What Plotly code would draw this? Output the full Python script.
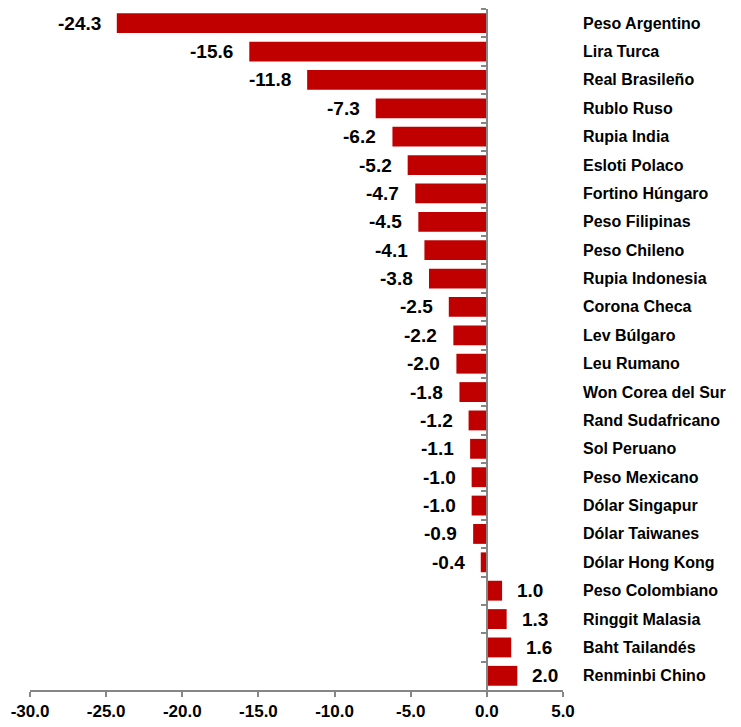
import plotly.graph_objects as go

currencies = ["Peso Argentino", "Lira Turca", "Real Brasileño", "Rublo Ruso", "Rupia India",
              "Esloti Polaco", "Fortino Húngaro", "Peso Filipinas", "Peso Chileno", "Rupia Indonesia",
              "Corona Checa", "Lev Búlgaro", "Leu Rumano", "Won Corea del Sur", "Rand Sudafricano",
              "Sol Peruano", "Peso Mexicano", "Dólar Singapur", "Dólar Taiwanes", "Dólar Hong Kong",
              "Peso Colombiano", "Ringgit Malasia", "Baht Tailandés", "Renminbi Chino"]
changes = [-24.3, -15.6, -11.8, -7.3, -6.2, -5.2, -4.7, -4.5, -4.1, -3.8, -2.5, -2.2, -2.0,
           -1.8, -1.2, -1.1, -1.0, -1.0, -0.9, -0.4, 1.0, 1.3, 1.6, 2.0]
tick_values = [-30, -25, -20, -15, -10, -5, 0, 5]
tick_labels = ["-30.0", "-25.0", "-20.0", "-15.0", "-10.0", "-5.0", "0.0", "5.0"]
x_range = [-30, 5]

FONT = "Liberation Sans, Arial, sans-serif"
GRAY = "#868686"

fig = go.Figure(go.Bar(
    x=changes, y=currencies, orientation="h",
    marker=dict(color="#C00000", line=dict(width=0)),
    hoverinfo="x+y",
))

ann = []
for c, v in zip(currencies, changes):
    ann.append(dict(x=v, y=c, xref="x", yref="y", text=f"{v:.1f}", showarrow=False,
                    xanchor="right" if v < 0 else "left", xshift=-14 if v < 0 else 13,
                    font=dict(family=FONT, size=19, color="#000000", weight="bold")))
    ann.append(dict(x=1, y=c, xref="paper", yref="y", text=c, showarrow=False,
                    xanchor="left", xshift=18,
                    font=dict(family=FONT, size=16, color="#000000", weight="bold")))

zero_pos = (0 - x_range[0]) / (x_range[1] - x_range[0])

# page body has an 8px default margin, so the figure is sized to fit the 741x727 window
fig.update_layout(
    width=733, height=719,
    margin=dict(l=22, r=178, t=1, b=37, autoexpand=False),
    plot_bgcolor="white", paper_bgcolor="white",
    bargap=0.3, showlegend=False,
    annotations=ann,
    xaxis=dict(range=x_range, tickvals=tick_values, ticktext=tick_labels,
               ticks="outside", ticklen=5, tickwidth=2, tickcolor=GRAY,
               showline=True, linecolor=GRAY, linewidth=2,
               showgrid=False, zeroline=False, automargin=False,
               tickfont=dict(family=FONT, size=17, color="#000000", weight="bold")),
    yaxis=dict(type="category", categoryorder="array", categoryarray=currencies,
               autorange="reversed", anchor="free", position=zero_pos,
               showline=True, linecolor=GRAY, linewidth=2,
               ticks="outside", tickson="boundaries", ticklen=5, tickwidth=2, tickcolor=GRAY,
               showticklabels=False, showgrid=False, zeroline=False, automargin=False),
)

fig.write_html("out.html")
